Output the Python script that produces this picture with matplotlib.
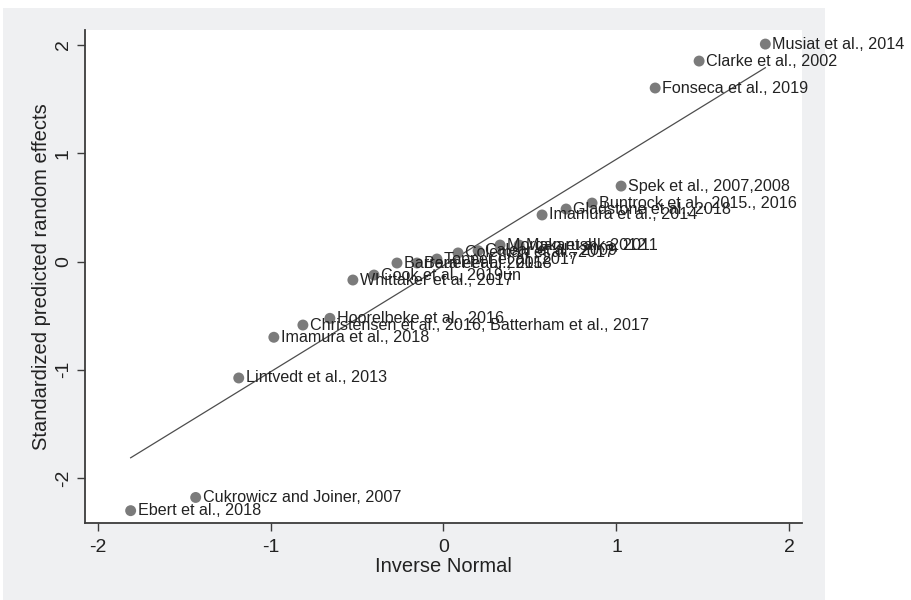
import numpy as np
import matplotlib
matplotlib.use("Agg")
import matplotlib.pyplot as plt
from matplotlib.patches import Rectangle

plt.rcParams["font.family"] = ["Liberation Sans", "DejaVu Sans"]
plt.rcParams["axes.unicode_minus"] = False

# Study labels, inverse-normal quantiles and standardized predicted random effects
studies = [
    "Ebert et al., 2018",
    "Cukrowicz and Joiner, 2007",
    "Lintvedt et al., 2013",
    "Imamura et al., 2018",
    "Christensen et al., 2016, Batterham et al., 2017",
    "Hoorelbeke et al., 2016",
    "Whittaker et al., 2017",
    "Cook et al., 2019un",
    "Barrera et al., 2015",
    "Bauer et al., 2018",
    "Topper et al., 2017",
    "Coleman et al., 2017",
    "Calear et al., 2009",
    "Morgan et al., 2012",
    "Makarushka, 2011",
    "Imamura et al., 2014",
    "Gladstone et al., 2018",
    "Buntrock et al., 2015., 2016",
    "Spek et al., 2007,2008",
    "Fonseca et al., 2019",
    "Clarke et al., 2002",
    "Musiat et al., 2014",
]
inv_normal = [-1.809, -1.433, -1.184, -0.981, -0.813, -0.657, -0.524, -0.402,
              -0.269, -0.153, -0.038, 0.084, 0.200, 0.327, 0.437, 0.570,
              0.709, 0.859, 1.027, 1.224, 1.478, 1.861]
std_effects = [-2.302, -2.180, -1.076, -0.700, -0.587, -0.525, -0.171, -0.125,
               -0.014, -0.014, 0.023, 0.079, 0.100, 0.152, 0.152, 0.430,
               0.485, 0.540, 0.697, 1.603, 1.852, 2.009]

# Reference line through the quantile plot
line_slope = 0.982
line_intercept = -0.037

fig = plt.figure(figsize=(9.12, 6.0), dpi=100)
fig.patch.set_facecolor("white")
# light grey graph region behind the plot
fig.patches.append(Rectangle((3 / 912, 0), 822 / 912, 592 / 600,
                             transform=fig.transFigure, facecolor="#eff0f2",
                             edgecolor="none", zorder=-10))

ax = fig.add_axes([85 / 912, 77 / 600, 717 / 912, 493 / 600])
ax.set_facecolor("white")

x = np.array(inv_normal)
y = np.array(std_effects)

xl = np.array([x.min(), x.max()])
ax.plot(xl, line_slope * xl + line_intercept, color="#4d4d4d", linewidth=0.9,
        zorder=2)

ax.scatter(x, y, s=62, color="#7b7b7b", edgecolors="none", zorder=3)

for xi, yi, name in zip(x, y, studies):
    ax.annotate(name, (xi, yi), xytext=(5, 0), textcoords="offset points",
                ha="left", va="center", fontsize=11.6, color="#222222",
                annotation_clip=False, zorder=4)

ax.set_xlim(-2.073, 2.073)
ax.set_ylim(-2.416, 2.139)
ax.set_xticks([-2, -1, 0, 1, 2])
ax.set_yticks([-2, -1, 0, 1, 2])

for side in ("top", "right"):
    ax.spines[side].set_visible(False)
for side in ("left", "bottom"):
    ax.spines[side].set_color("#3c3c3c")
    ax.spines[side].set_linewidth(1.3)

ax.tick_params(axis="both", direction="out", length=5.5, width=1.0,
               color="#3c3c3c", labelsize=14, labelcolor="#222222")
ax.tick_params(axis="x", pad=6)
ax.tick_params(axis="y", pad=4)
plt.setp(ax.get_yticklabels(), rotation=90, va="center")

ax.set_xlabel("Inverse Normal", fontsize=14.5, color="#222222", labelpad=1)
ax.set_ylabel("Standardized predicted random effects", fontsize=14.5,
              color="#222222", labelpad=3)

fig.savefig("out.png", dpi=100, facecolor="white")
